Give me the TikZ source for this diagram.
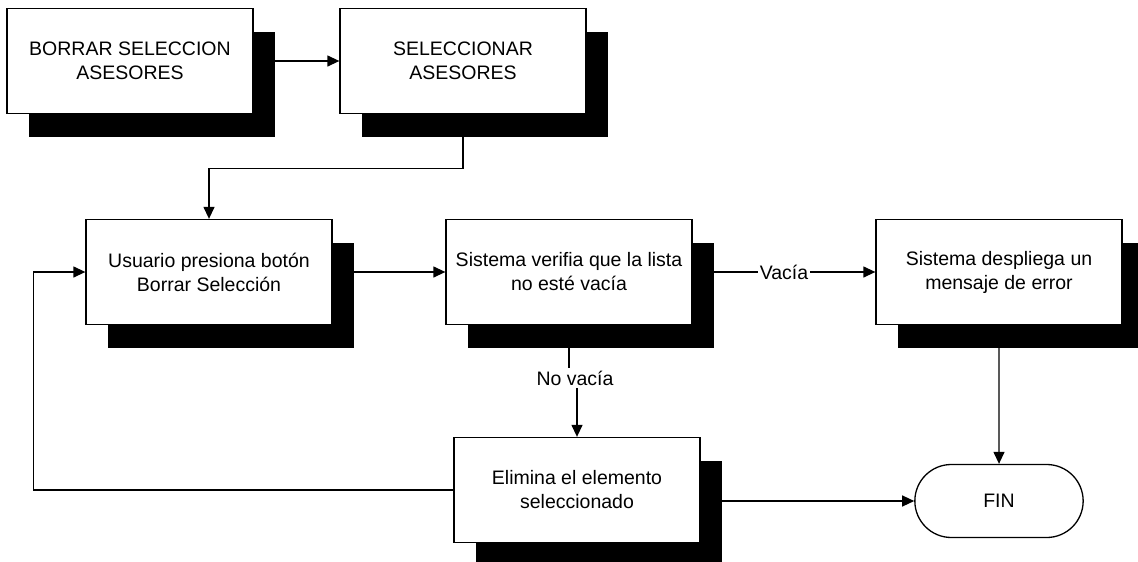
\documentclass[tikz,border=0pt]{standalone}
\usepackage{fontspec}
\setmainfont{Liberation Sans}
\usetikzlibrary{arrows.meta,shadows,shapes.misc}

\tikzset{
	proceso/.style={draw, fill=white, minimum width=246pt, minimum height=105pt,
		align=center, font=\fontsize{19.5}{24}\selectfont,
		drop shadow={shadow xshift=22pt, shadow yshift=-23pt, fill=black, opacity=1}},
	terminal/.style={draw, fill=white, rounded rectangle, minimum width=175pt,
		minimum height=73pt, font=\fontsize{19.5}{24}\selectfont},
	etiqueta/.style={fill=white, inner sep=2pt, font=\fontsize{19.5}{24}\selectfont}
}

\begin{document}
\begin{tikzpicture}[x=1pt, y=-1pt, line width=1.3pt, >={Triangle[length=12pt,width=11pt]}]
	
	\useasboundingbox (0,0) rectangle (1138,562);
	
	% Boxes
	\node[proceso] (borrar) at (130,61) {BORRAR SELECCION\\ASESORES};
	\node[proceso] (selec) at (463,61) {SELECCIONAR\\ASESORES};
	\node[proceso] (usuario) at (209,272) {Usuario presiona botón\\Borrar Selección};
	\node[proceso] (verifica) at (569,272) {Sistema verifia que la lista\\no esté vacía};
	\node[proceso] (error) at (999,272) {Sistema despliega un\\mensaje de error};
	\node[proceso] (elimina) at (577,490) {Elimina el elemento\\seleccionado};
	\node[terminal] (fin) at (999,501) {FIN};
	
	% Arrows
	\draw[->] (borrar) -- (selec);
	\draw[->] (selec.south) -- ++(0,54) -| (usuario.north);
	\draw[->] (usuario) -- (verifica);
	\draw[->] (verifica) -- node[etiqueta] {Vacía} (error);
	\draw[->] (error) -- (fin);
	
	% No vacia branch
	\node[etiqueta] (novacia) at (575,378) {No vacía};
	\draw (verifica.south) -- (novacia.north -| verifica.south);
	\draw[->] (novacia.south -| elimina.north) -- (elimina.north);
	
	% Back to the user and to the end
	\draw[->] (elimina.east |- fin.west) -- (fin.west);
	\draw[->] (elimina.west) -- ++(-420,0) |- (usuario.west);
\end{tikzpicture}
\end{document}
